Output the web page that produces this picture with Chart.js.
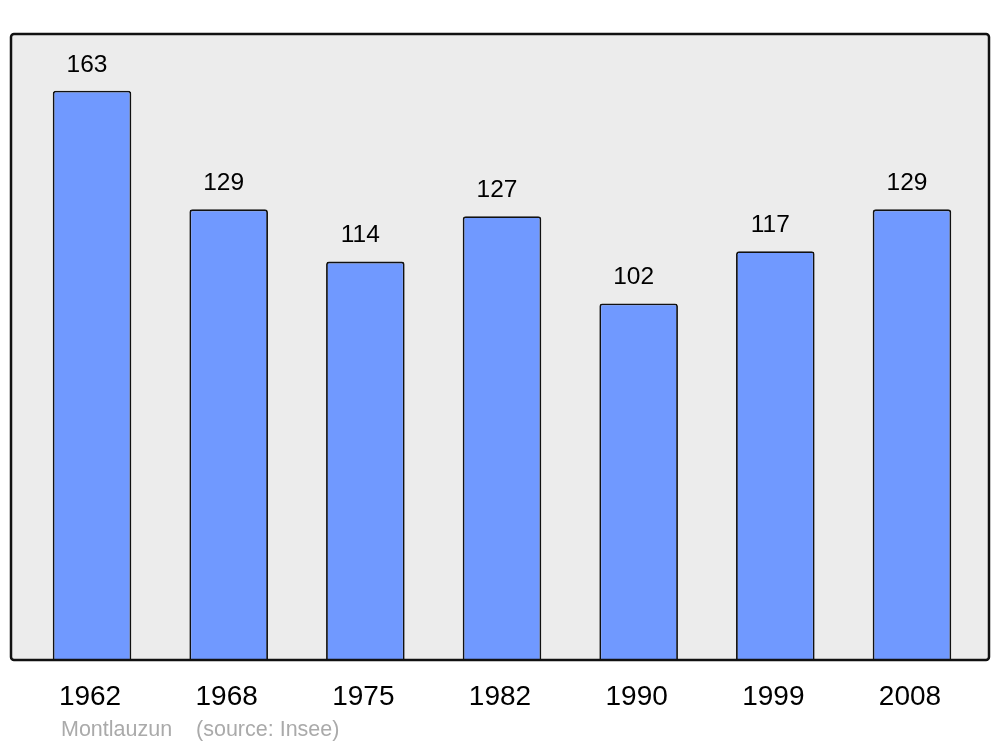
<!DOCTYPE html>
<html>
<head>
<meta charset="utf-8">
<script src="https://cdn.jsdelivr.net/npm/chart.js@4"></script>
<style>
html,body{margin:0;padding:0;background:#fff;}
#wrap{width:1000px;height:747px;}
</style>
</head>
<body>
<div id="wrap"><canvas id="c" width="1000" height="747"></canvas></div>
<script>
const years = ['1962','1968','1975','1982','1990','1999','2008'];
const population = [163,129,114,127,102,117,129];
const sourceText = 'Montlauzun    (source: Insee)';

const FONT = "'Liberation Sans', Arial, sans-serif";

const framePlugin = {
  id: 'frame',
  beforeDatasetsDraw(chart) {
    const ctx = chart.ctx;
    ctx.save();
    ctx.beginPath();
    ctx.roundRect(11, 34, 978, 626, 3);
    ctx.fillStyle = '#ececec';
    ctx.fill();
    ctx.restore();
  },
  afterDatasetsDraw(chart) {
    const ctx = chart.ctx;
    ctx.save();
    ctx.beginPath();
    ctx.roundRect(11, 34, 978, 626, 3);
    ctx.lineWidth = 2.5;
    ctx.strokeStyle = '#111';
    ctx.stroke();
    // value labels
    const meta = chart.getDatasetMeta(0);
    ctx.fillStyle = '#000';
    ctx.font = '24.5px ' + FONT;
    ctx.textAlign = 'center';
    ctx.textBaseline = 'middle';
    meta.data.forEach((bar, i) => {
      ctx.fillText(String(chart.data.datasets[0].data[i]), bar.x - 5, bar.y - 26);
    });
    // source
    ctx.fillStyle = '#aaaaaa';
    ctx.font = '21.5px ' + FONT;
    ctx.textAlign = 'left';
    ctx.fillText(sourceText, 61, 730);
    ctx.restore();
  }
};

new Chart(document.getElementById('c'), {
  type: 'bar',
  data: {
    labels: years,
    datasets: [{
      data: population,
      backgroundColor: '#7099ff',
      borderColor: '#111',
      borderWidth: 1.8,
      borderSkipped: 'bottom',
      borderRadius: {topLeft: 3, topRight: 3, bottomLeft: 0, bottomRight: 0},
      barPercentage: 0.575,
      categoryPercentage: 1
    }]
  },
  options: {
    responsive: false,
    animation: false,
    layout: { padding: { left: 23.7, right: 19.7, top: 34, bottom: 0 } },
    plugins: { legend: { display: false }, tooltip: { enabled: false }, title: { display: false } },
    scales: {
      y: { display: false, min: 0, max: 179.3 },
      x: {
        grid: { display: false, drawTicks: false },
        border: { display: false },
        ticks: {
          color: '#000',
          font: { family: FONT, size: 28 },
          padding: 21,
          labelOffset: -2,
          maxRotation: 0
        },
        afterFit(scale) { scale.height = 88; }
      }
    }
  },
  plugins: [framePlugin]
});
</script>
</body>
</html>
